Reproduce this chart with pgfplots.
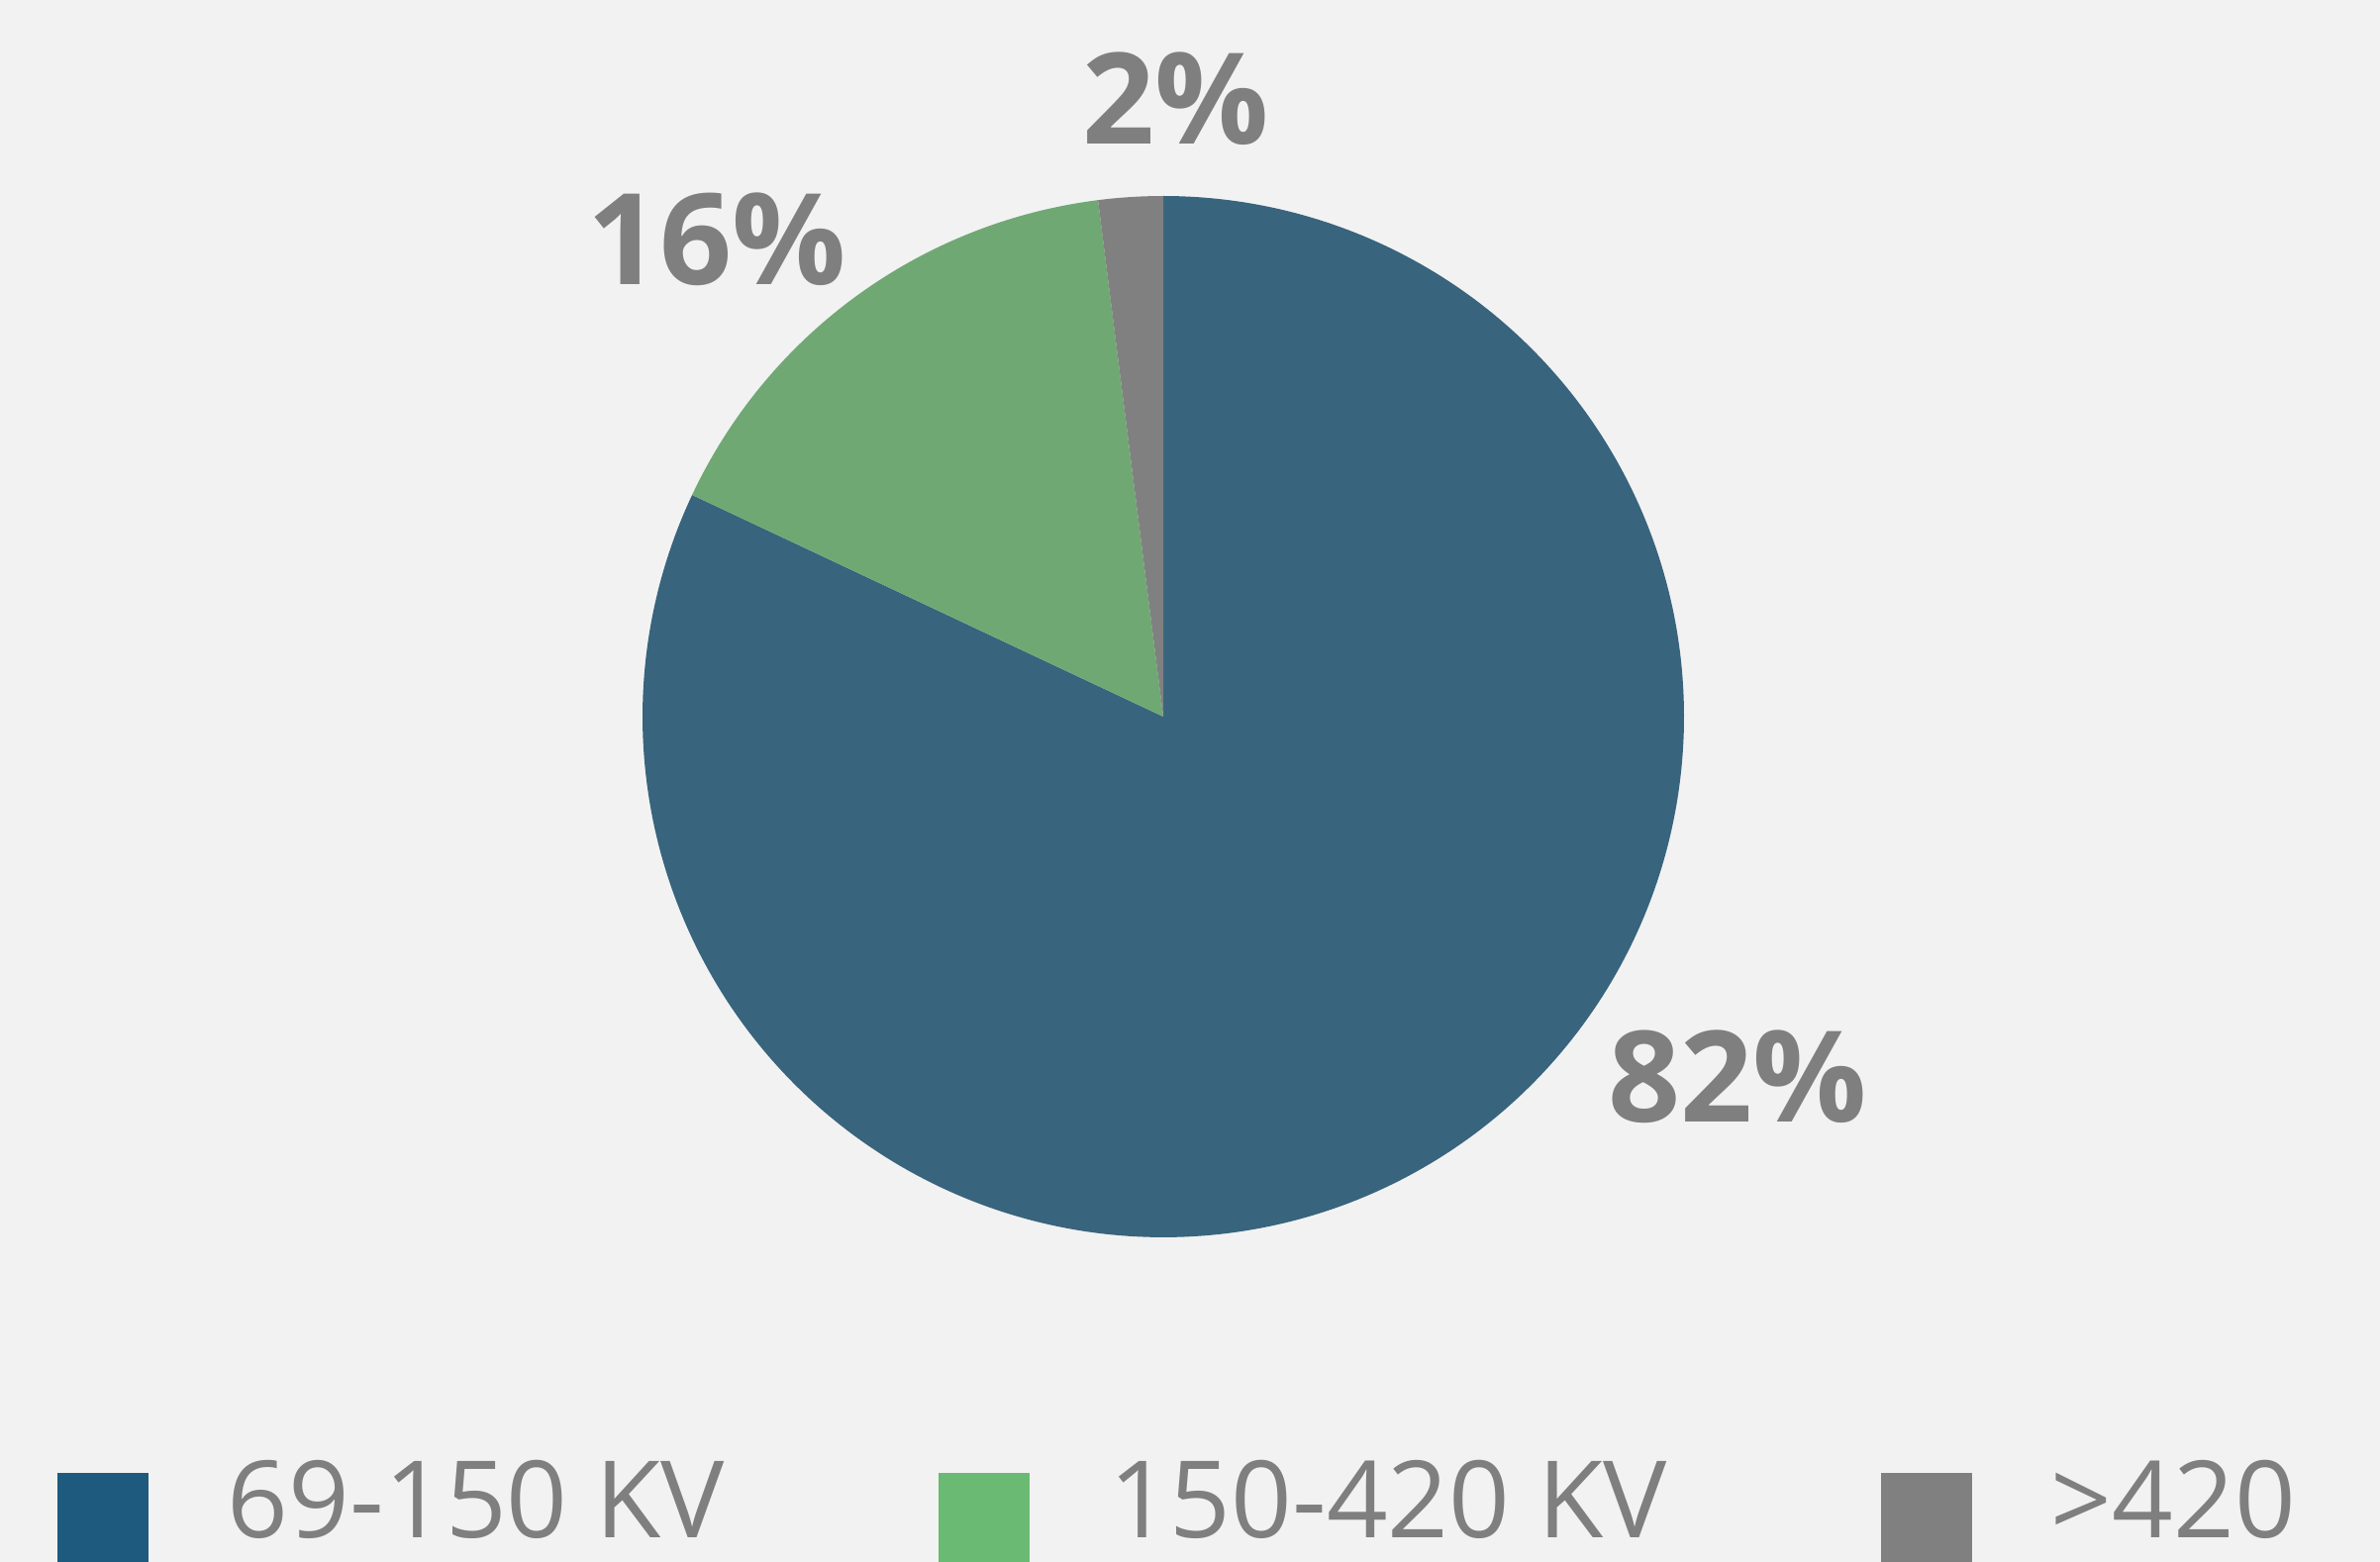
\documentclass[border=0pt]{standalone}
\usepackage{pgfplots}
\pgfplotsset{compat=1.18}
\usepackage{fontspec}
\setmainfont{Open Sans}
\definecolor{bgc}{HTML}{F2F2F2}
\definecolor{pieblue}{HTML}{38647D}
\definecolor{piegreen}{HTML}{70A874}
\definecolor{piegrey}{HTML}{808080}
\definecolor{legblue}{HTML}{1E5A7E}
\definecolor{leggreen}{HTML}{6BBA73}
\definecolor{leggrey}{HTML}{808080}
\definecolor{txt}{HTML}{7F7F7F}
\begin{document}
\begin{tikzpicture}
\begin{axis}[name=ax,
  scale only axis, width=601pt, height=394.5pt,
  xmin=-1175, xmax=1229, ymin=-854, ymax=724,
  hide axis, clip=false,
  legend cell align=left,
  legend columns=3,
  legend style={at={(axis cs:-1117,-751)}, anchor=north west,
    draw=none, fill=none, inner sep=0pt, outer sep=0pt,
    font=\fontsize{27}{32}\selectfont, text=txt,
    nodes={inner sep=0pt},
    /tikz/every odd column/.append style={column sep=20pt},
    /tikz/every even column/.append style={column sep=54pt}},
  legend image code/.code={\fill[#1, draw=none] (0pt,-15.75pt) rectangle (23pt,7.25pt);},
]
\fill[bgc] (rel axis cs:0,0) rectangle (rel axis cs:1,1);
% slices: 82%, 16%, 2% clockwise from 12 o'clock, radius 526
\addplot[forget plot, fill=pieblue, draw=none, data cs=polar, domain=90:{90-3.6*82}, samples=300] {526} -- (axis cs:0,0) -- cycle;
\addplot[forget plot, fill=piegreen, draw=none, data cs=polar, domain={90-3.6*82}:{90-3.6*98}, samples=80] {526} -- (axis cs:0,0) -- cycle;
\addplot[forget plot, fill=piegrey, draw=none, data cs=polar, domain={90-3.6*98}:{90-3.6*100}, samples=20] {526} -- (axis cs:0,0) -- cycle;
\addlegendimage{fill=legblue, draw=none}
\addlegendentry{69-150 KV}
\addlegendimage{fill=leggreen, draw=none}
\addlegendentry{150-420 KV}
\addlegendimage{fill=leggrey, draw=none}
\addlegendentry{>420}
\node[font=\fontsize{32}{38}\selectfont\bfseries, text=txt] at (axis cs:13,624) {2\%};
\node[font=\fontsize{32}{38}\selectfont\bfseries, text=txt] at (axis cs:-451,482) {16\%};
\node[font=\fontsize{32}{38}\selectfont\bfseries, text=txt] at (axis cs:580,-364) {82\%};
\end{axis}
\pgfresetboundingbox
\path (ax.south west) rectangle (ax.north east);
\end{tikzpicture}
\end{document}
